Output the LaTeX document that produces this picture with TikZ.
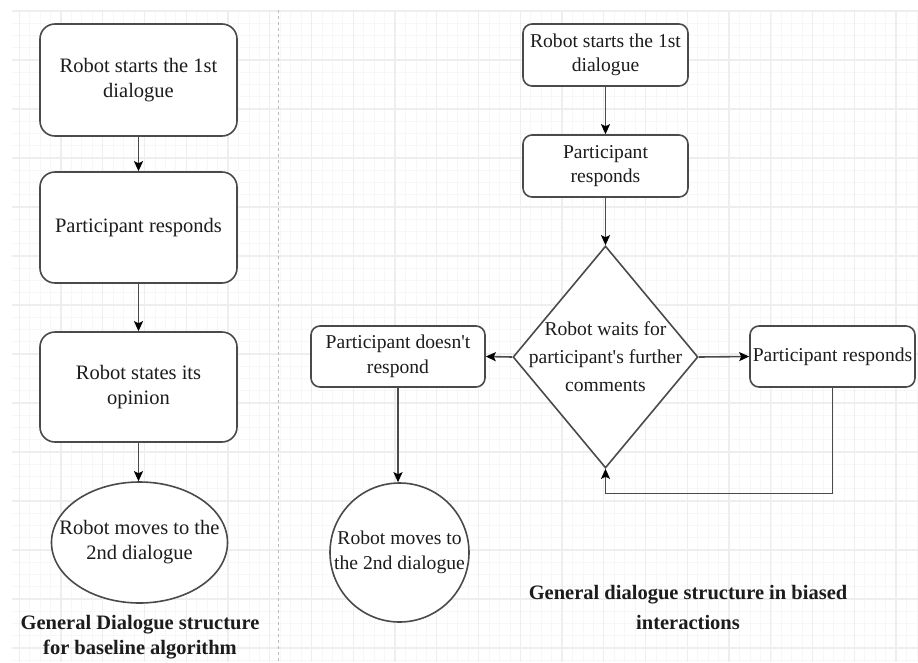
\documentclass[tikz,border=0pt]{standalone}
\usepackage{fontspec}
\setmainfont{Liberation Serif}
\usetikzlibrary{shapes.geometric,arrows.meta}

\definecolor{inkline}{HTML}{4A4A4A}
\definecolor{inktext}{HTML}{1C1C1C}
\definecolor{gridmajor}{HTML}{EEEEEE}
\definecolor{gridminor}{HTML}{F7F7F7}
\definecolor{divider}{HTML}{BBBBBB}

\tikzset{
  bigbox/.style={draw=inkline, line width=1.6pt, rounded corners=15pt, fill=white,
    minimum width=197pt, inner sep=0pt, text=inktext, align=center,
    font=\fontsize{20.5}{25}\selectfont},
  smallbox/.style={draw=inkline, line width=1.6pt, rounded corners=9pt, fill=white,
    inner sep=0pt, text=inktext, align=center,
    font=\fontsize{19.6}{24.5}\selectfont},
  outline/.style={draw=inkline, line width=1.6pt, fill=white, inner sep=0pt},
  bodytext/.style={text=inktext, align=center, inner sep=0pt},
  caption/.style={text=inktext, align=center, inner sep=0pt,
    font=\bfseries\fontsize{20.5}{25}\selectfont},
  flow/.style={draw=inkline, line width=1.6pt,
    -{Stealth[length=10pt,width=9pt,inset=2pt,color=black]}},
}

\begin{document}
\begin{tikzpicture}[x=1pt,y=-1pt]
\useasboundingbox (0,0) rectangle (918,662);
\fill[white] (0,0) rectangle (918,662);

% background grid
\begin{scope}
  \clip (12,10) rectangle (918,662);
  \foreach \i in {0,...,90} {
    \draw[gridminor, line width=0.8pt] ({8.8+10.44*\i},10) -- ({8.8+10.44*\i},662);
  }
  \foreach \j in {0,...,56} {
    \draw[gridminor, line width=0.8pt] (12,{11+12.25*\j}) -- (918,{11+12.25*\j});
  }
  \foreach \i in {0,...,22} {
    \draw[gridmajor, line width=1.1pt] ({19.25+41.75*\i},10) -- ({19.25+41.75*\i},662);
  }
  \foreach \j in {0,...,14} {
    \draw[gridmajor, line width=1.1pt] (12,{11+49*\j}) -- (918,{11+49*\j});
  }
\end{scope}

% divider between the two structures
\draw[divider, line width=1pt, dash pattern=on 3pt off 3pt] (278,10) -- (278,662);

% ---- baseline algorithm ----
\node[bigbox, minimum height=112pt] (b1) at (138.5,80) {Robot starts the 1st\\dialogue};
\node[bigbox, minimum height=111pt] (b2) at (138.5,227.5) {Participant responds};
\node[bigbox, minimum height=110pt] (b3) at (138.5,387) {Robot states its\\opinion};
\node[outline, ellipse, minimum width=176pt, minimum height=121pt] (b4) at (139.5,542.5) {};
\node[bodytext, font=\fontsize{20.5}{25}\selectfont] (b4t) at (b4.center) {Robot moves to the\\2nd dialogue};

\draw[flow] (b1.south) -- (b2.north);
\draw[flow] (b2.south) -- (b3.north);
\draw[flow] (b3.south) -- (b3.south |- b4.north);

\node[caption] (capa) at (140,637) {General Dialogue structure\\for baseline algorithm};

% ---- biased interactions ----
\node[smallbox, minimum width=165pt, minimum height=62pt] (r1) at (605.5,55) {Robot starts the 1st\\dialogue};
\node[smallbox, minimum width=165pt, minimum height=62pt] (r2) at (605.5,166) {Participant\\responds};
\node[outline, diamond, minimum width=185pt, minimum height=222pt] (dia) at (605.5,357) {};
\node[bodytext, font=\fontsize{19.6}{28}\selectfont] (diat) at (dia.center) {Robot waits for\\participant\textquotesingle s further\\comments};
\node[smallbox, minimum width=174pt, minimum height=61pt] (nr) at (398,356.5) {Participant doesn\textquotesingle t\\respond};
\node[outline, circle, minimum size=139pt] (rc) at (399.5,552.5) {};
\node[bodytext, font=\fontsize{19.6}{25}\selectfont] (rct) at (rc.center) {Robot moves to\\the 2nd dialogue};
\node[smallbox, minimum width=165pt, minimum height=61pt] (pr) at (832.5,356.5) {Participant responds};

\draw[flow] (r1.south) -- (r2.north);
\draw[flow] (r2.south) -- (dia.north);
\draw[flow] (dia.west) -- (nr.east);
\draw[flow] (nr.south) -- (nr.south |- rc.north);
\draw[flow] (dia.east) -- (pr.west);
\draw[flow] (pr.south) -- ++(0,105.5) -| (dia.south);

\node[caption, font=\bfseries\fontsize{20.5}{30}\selectfont] (capb) at (688,607) {General dialogue structure in biased\\interactions};
\end{tikzpicture}
\end{document}
